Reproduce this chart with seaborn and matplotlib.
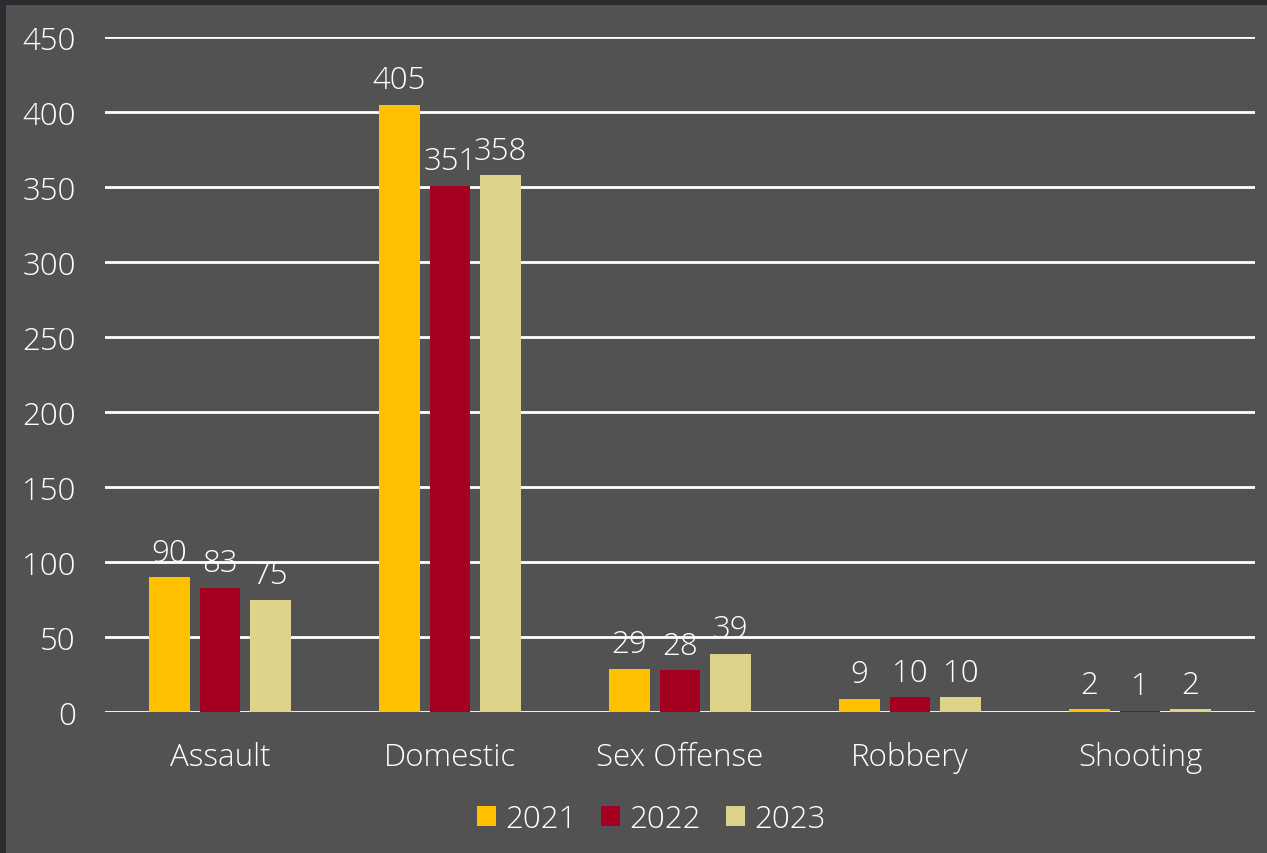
import pandas as pd
import seaborn as sns
import matplotlib.pyplot as plt
from matplotlib.patches import Rectangle

# Data
categories = ["Assault", "Domestic", "Sex Offense", "Robbery", "Shooting"]
years = ["2021", "2022", "2023"]
counts_2021 = [90, 405, 29, 9, 2]
counts_2022 = [83, 351, 28, 10, 1]
counts_2023 = [75, 358, 39, 10, 2]
colors = ["#FFC000", "#A50021", "#DDD38A"]

df = pd.DataFrame({
    "category": categories * 3,
    "year": [y for y in years for _ in categories],
    "count": counts_2021 + counts_2022 + counts_2023,
})

bg = "#525252"
plt.rcParams["font.family"] = ["Open Sans", "DejaVu Sans"]
plt.rcParams["font.weight"] = "light"
fs = 22.5

fig = plt.figure(figsize=(12.67, 8.54), dpi=100, facecolor="#2a2c30")
# gray panel with a thin dark border on top and left
fig.patches.append(Rectangle((6 / 1267, 0), 1, 1 - 6 / 854, transform=fig.transFigure,
                             facecolor=bg, edgecolor="none", zorder=-5))
ax = fig.add_axes([105 / 1267, 1 - 713 / 854, 1150 / 1267, 675 / 854])
ax.set_facecolor(bg)

sns.barplot(data=df, x="category", y="count", hue="year", palette=colors,
            width=0.66, gap=0.2, ax=ax, zorder=3, saturation=1)

for c in ax.containers:
    ax.bar_label(c, fmt="%d", padding=6, color="white", fontsize=fs)

ax.set_ylim(0, 450)
ax.set_xlim(-0.5, 4.5)
ax.set_yticks(range(0, 451, 50))
ax.grid(axis="y", color="white", linewidth=2, zorder=0)
ax.set_axisbelow(True)
for s in ax.spines.values():
    s.set_visible(False)
ax.tick_params(axis="both", length=0, colors="white", labelsize=fs)
ax.tick_params(axis="y", pad=21)
ax.tick_params(axis="x", pad=21)
ax.set_xlabel("")
ax.set_ylabel("")

leg = ax.legend(loc="upper center", bbox_to_anchor=(0.475, -0.093), ncol=3, frameon=False,
                fontsize=fs, handlelength=0.6, handleheight=0.6, handletextpad=0.3,
                columnspacing=0.8, labelcolor="white")

fig.savefig("out.png", dpi=100, facecolor=fig.get_facecolor())
